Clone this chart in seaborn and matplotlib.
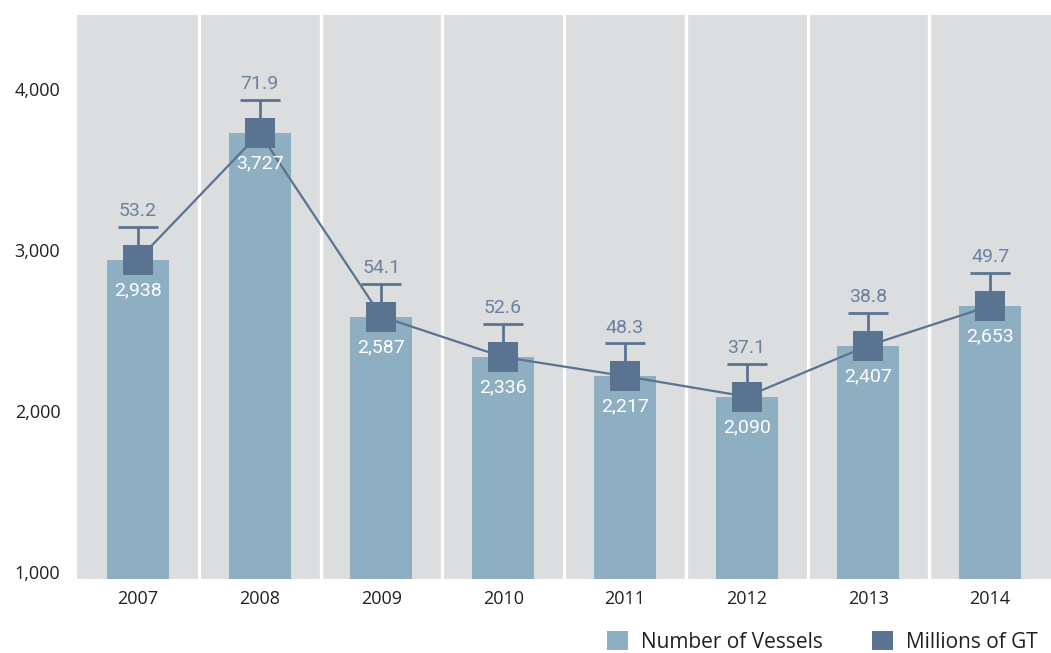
import numpy as np
import matplotlib
matplotlib.use('Agg')
import matplotlib.pyplot as plt
import seaborn as sns
from matplotlib.patches import Patch

years = ['2007', '2008', '2009', '2010', '2011', '2012', '2013', '2014']
vessels = [2938, 3727, 2587, 2336, 2217, 2090, 2407, 2653]
gt_millions = [53.2, 71.9, 54.1, 52.6, 48.3, 37.1, 38.8, 49.7]
y_ticks = [1000, 2000, 3000, 4000]

bar_color = '#8eaec2'
line_color = '#5a7391'
bg_color = '#dcdddf'

sns.set_style('white')
plt.rcParams['font.family'] = ['Open Sans', 'DejaVu Sans']

fig = plt.figure(figsize=(10.51, 6.53), dpi=100)
ax = fig.add_axes([77 / 1051, 1 - 579 / 653, 1 - 77 / 1051, (579 - 15) / 653])
ax.set_facecolor(bg_color)

sns.barplot(x=years, y=vessels, color=bar_color, width=0.51, saturation=1,
            linewidth=0, edgecolor='none', ax=ax)

x = np.arange(len(years))
stem = 205  # height of the T above each marker, in axis units
tops = np.array(vessels) + stem
ax.vlines(x, vessels, tops, color=line_color, linewidth=2, zorder=4)
ax.plot(x, tops, linestyle='none', marker='_', markersize=29, markeredgewidth=2,
        color=line_color, zorder=4)
sns.lineplot(x=x, y=vessels, color=line_color, linewidth=1.6, marker='s', markersize=21,
             markeredgewidth=0, ax=ax, zorder=5)

for xi, v, g in zip(x, vessels, gt_millions):
    ax.annotate(f'{g:.1f}', (xi, v), xytext=(0, 35), textcoords='offset points',
                ha='center', va='center', color='#6a82a0', fontsize=14,
                family='Roboto')
    ax.annotate(f'{v:,}', (xi, v), xytext=(0, -22), textcoords='offset points',
                ha='center', va='center', color='white', fontsize=14,
                family='Roboto', zorder=6)

for s in np.arange(0.5, len(years) - 1, 1):
    ax.axvline(s, color='white', linewidth=2.4, zorder=1)

ax.set_xlim(-0.5, len(years) - 0.5)
ax.set_ylim(957, 4460)
ax.set_yticks(y_ticks)
ax.set_yticklabels([f'{t:,}' for t in y_ticks])
ax.tick_params(axis='both', length=0, labelsize=13, colors='#231f20', pad=8)
ax.tick_params(axis='y', pad=12)
for sp in ax.spines.values():
    sp.set_visible(False)
ax.set_xlabel('')
ax.set_ylabel('')

handles = [Patch(facecolor=bar_color, edgecolor='none', label='Number of Vessels'),
           Patch(facecolor=line_color, edgecolor='none', label='Millions of GT')]
fig.legend(handles=handles, loc='lower right', bbox_to_anchor=(1.005, -0.028), ncol=2,
           frameon=False, fontsize=15, handlelength=1.0, handleheight=1.0,
           handletextpad=0.6, columnspacing=2.4, labelcolor='#231f20')

fig.savefig('out.png', dpi=100)
